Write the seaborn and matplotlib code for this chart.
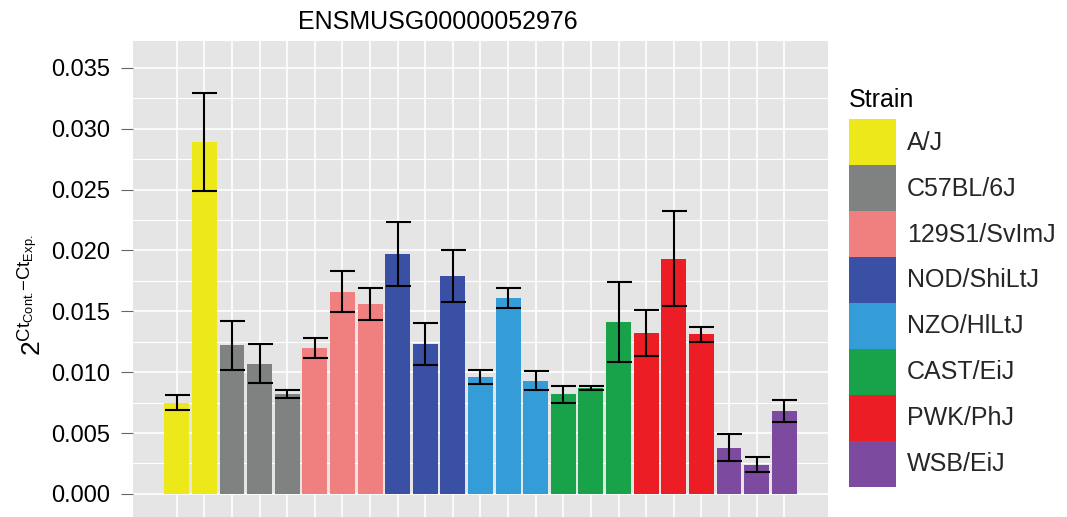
import numpy as np
import pandas as pd
import matplotlib
matplotlib.use("Agg")
import matplotlib.pyplot as plt
import seaborn as sns
from matplotlib.patches import Patch
from matplotlib.ticker import MultipleLocator, FormatStrFormatter

# ---- data ----
strains = ["A/J", "C57BL/6J", "129S1/SvImJ", "NOD/ShiLtJ",
           "NZO/HlLtJ", "CAST/EiJ", "PWK/PhJ", "WSB/EiJ"]
colors = ["#EDE81A", "#808281", "#F08080", "#3A50A4",
          "#349DD7", "#18A24A", "#EC1D25", "#7C4A9E"]
replicates = [2, 3, 3, 3, 3, 3, 3, 3]
means = [0.0075, 0.0289,
         0.0122, 0.0107, 0.0082,
         0.0120, 0.0166, 0.0156,
         0.0197, 0.0123, 0.0179,
         0.0096, 0.0161, 0.0093,
         0.0082, 0.0087, 0.0141,
         0.0132, 0.0193, 0.0131,
         0.0038, 0.0024, 0.0068]
errors = [0.0006, 0.0040,
          0.0020, 0.0016, 0.00035,
          0.0008, 0.0017, 0.0013,
          0.0026, 0.0017, 0.0021,
          0.0006, 0.0008, 0.0008,
          0.0007, 0.0002, 0.0033,
          0.0019, 0.0039, 0.0006,
          0.0011, 0.0006, 0.0009]
title = "ENSMUSG00000052976"
legend_title = "Strain"

strain_col = [s for s, n in zip(strains, replicates) for _ in range(n)]
sample = [f"{s} #{i+1}" for s, n in zip(strains, replicates) for i in range(n)]
df = pd.DataFrame({"sample": sample, "strain": strain_col,
                   "value": means, "err": errors})

sns.set_theme(style="darkgrid")
plt.rcParams['font.family'] = ['Liberation Sans', 'DejaVu Sans']
plt.rcParams['mathtext.fontset'] = 'custom'
plt.rcParams['mathtext.rm'] = 'Liberation Sans'
plt.rcParams['mathtext.it'] = 'Liberation Sans:italic'
plt.rcParams['mathtext.bf'] = 'Liberation Sans:bold'

W, H = 1067, 517
fig = plt.figure(figsize=(W / 100, H / 100), dpi=100)
ax = fig.add_axes([132.7 / W, 0.0, (828.3 - 132.7) / W, 1 - 41 / H])

sns.barplot(data=df, x="sample", y="value", hue="strain", hue_order=strains,
            palette=dict(zip(strains, colors)), dodge=False, width=0.9,
            saturation=1, errorbar=None, legend=False, ax=ax, linewidth=0)
x = np.arange(len(df))
ax.errorbar(x, df["value"], yerr=df["err"], fmt='none', ecolor='black',
            elinewidth=1.5, capsize=9, capthick=1.5, zorder=5)

ax.set_facecolor('#E5E5E5')
ax.set_xlim(-1.6, len(df) - 1 + 1.6)
ax.set_ylim(-0.0019, 0.0372)
ax.yaxis.set_major_locator(MultipleLocator(0.005))
ax.yaxis.set_minor_locator(MultipleLocator(0.0025))
ax.yaxis.set_major_formatter(FormatStrFormatter('%.3f'))
ax.grid(which='major', color='white', lw=1.2)
ax.grid(which='minor', axis='y', color='white', lw=0.8)
ax.set_axisbelow(True)
ax.set_xticks(x)
ax.set_xticklabels([])
ax.tick_params(axis='x', length=0)
ax.tick_params(axis='y', which='major', length=8.6, width=0.8,
               color='#666666', labelsize=17, pad=8, labelcolor='black', left=True)
ax.tick_params(axis='y', which='minor', length=0)
for s in ax.spines.values():
    s.set_visible(False)
ax.set_xlabel('')
ax.set_ylabel(r'$2^{\mathrm{Ct}_{\mathrm{Cont.}}\!\!-\!\mathrm{Ct}_{\mathrm{Exp.}}}$',
              fontsize=19, color='black')
ax.yaxis.set_label_coords((47 - 132.7) / (828.3 - 132.7), (517 - 295) / (517 - 41))

fig.text(438 / W, 1 - 22 / H, title, ha='center', va='center', fontsize=18,
         color='black')

handles = [Patch(facecolor=c, edgecolor='none', label=s)
           for s, c in zip(strains, colors)]
leg = fig.legend(handles=handles, loc='upper left',
                 bbox_to_anchor=(849 / W, 1 - 119 / H), frameon=False,
                 fontsize=18, handlelength=1.88,
                 handleheight=2.45, labelspacing=0, handletextpad=0.45,
                 borderpad=0, borderaxespad=0)
fig.text(849 / W, 1 - 107 / H, legend_title, ha='left', va='baseline',
         fontsize=18, color='black')

fig.savefig("out.png", dpi=100)
